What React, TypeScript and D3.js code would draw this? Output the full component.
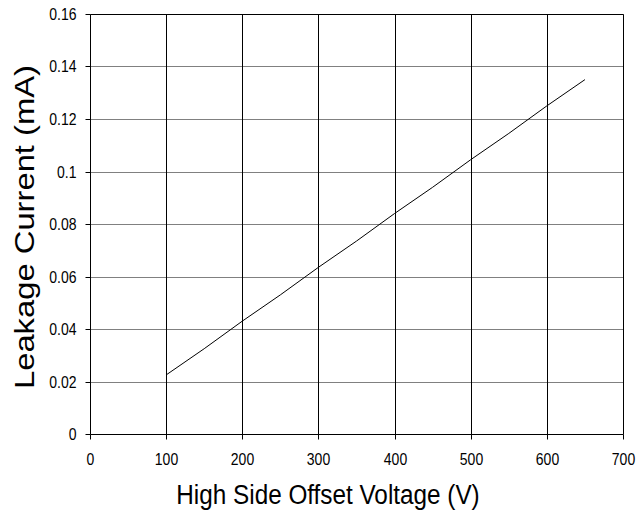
import React from "react";
import * as d3 from "d3";

const voltage = [100, 150, 200, 250, 300, 350, 400, 450, 500, 550, 600, 650];
const current = [0.0225, 0.0325, 0.043, 0.053, 0.0635, 0.0735, 0.084, 0.094, 0.1045, 0.1145, 0.125, 0.135];
const xTicks = [0, 100, 200, 300, 400, 500, 600, 700];
const yTicks = [0, 0.02, 0.04, 0.06, 0.08, 0.1, 0.12, 0.14, 0.16];
const xTitle = "High Side Offset Voltage (V)";
const yTitle = "Leakage Current (mA)";

const W = 639;
const H = 520;
const L = 90;
const R = 623;
const T = 14;
const B = 434;
const FONT = "'Liberation Sans', Arial, sans-serif";
const SY = 1.17;

export default function App() {
  const x = d3.scaleLinear().domain([0, 700]).range([L, R]);
  const y = d3.scaleLinear().domain([0, 0.16]).range([B, T]);
  const px = (v: number) => Math.round(x(v)) + 0.5;
  const py = (v: number) => Math.round(y(v)) + 0.5;
  const line = d3
    .line<number>()
    .x((_, i) => x(voltage[i]))
    .y((d) => y(d));

  return (
    <svg
      width={W}
      height={H}
      style={{ position: "absolute", left: 0, top: 0, background: "#fff" }}
    >
      <rect x={0} y={0} width={W} height={H} fill="#fff" />
      {yTicks.slice(1).map((t) => (
        <line key={"hg" + t} x1={px(0)} x2={px(700)} y1={py(t)} y2={py(t)} stroke="#808080" strokeWidth={1} />
      ))}
      {xTicks.slice(1).map((t) => (
        <line key={"vg" + t} x1={px(t)} x2={px(t)} y1={py(0.16)} y2={py(0)} stroke="#000" strokeWidth={1} />
      ))}
      <line x1={px(0)} x2={px(0)} y1={py(0.16)} y2={py(0)} stroke="#000" />
      <line x1={px(0)} x2={px(700)} y1={py(0)} y2={py(0)} stroke="#000" />
      <line x1={px(0)} x2={px(700)} y1={py(0.16)} y2={py(0.16)} stroke="#000" />
      {yTicks.map((t) => (
        <g key={"yt" + t}>
          <line x1={px(0) - 5} x2={px(0)} y1={py(t)} y2={py(t)} stroke="#000" />
          <text
            transform={`translate(${px(0) - 14},${py(t)}) scale(1,${SY})`}
            textAnchor="end"
            dominantBaseline="central"
            fontFamily={FONT}
            fontSize={14}
            fill="#000"
          >
            {String(t)}
          </text>
        </g>
      ))}
      {xTicks.map((t) => (
        <g key={"xt" + t}>
          <line x1={px(t)} x2={px(t)} y1={py(0)} y2={py(0) + 5} stroke="#000" />
          <text
            transform={`translate(${px(t)},${py(0) + 25}) scale(1,${SY})`}
            textAnchor="middle"
            dominantBaseline="central"
            fontFamily={FONT}
            fontSize={14}
            fill="#000"
          >
            {String(t)}
          </text>
        </g>
      ))}
      <path d={line(current) || ""} fill="none" stroke="#000" strokeWidth={1} />
      <text
        transform={`translate(328,${494}) scale(1,${SY})`}
        textAnchor="middle"
        dominantBaseline="central"
        fontFamily={FONT}
        fontSize={24.3}
        fill="#000"
      >
        {xTitle}
      </text>
      <text
        transform={`translate(24,${(T + B) / 2 + 3}) scale(1,${SY}) rotate(-90)`}
        textAnchor="middle"
        dominantBaseline="central"
        fontFamily={FONT}
        fontSize={28}
        fill="#000"
      >
        {yTitle}
      </text>
    </svg>
  );
}
